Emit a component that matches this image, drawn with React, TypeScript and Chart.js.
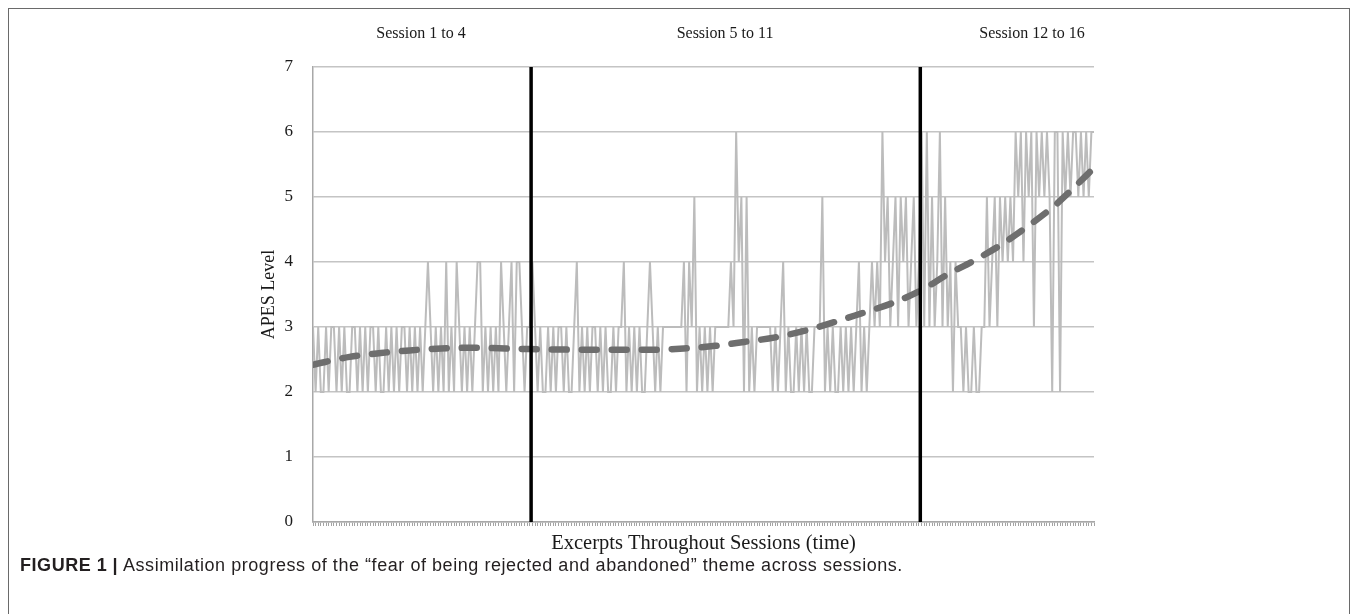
import React, { useEffect, useRef } from "react";
import { Chart, registerables } from "chart.js";

Chart.register(...registerables);

// APES level per excerpt, grouped by session block
const session1to4 = [
  3, 2, 3, 2, 2, 3, 2, 3, 3, 2,
  3, 2, 3, 2, 2, 3, 3, 2, 3, 2,
  3, 2, 3, 3, 2, 3, 2, 2, 3, 2,
  3, 2, 3, 2, 3, 3, 2, 3, 2, 3,
  2, 3, 2, 3, 4, 3, 2, 3, 2, 3,
  2, 4, 2, 3, 2, 4, 3, 2, 3, 2,
  3, 2, 3, 4, 4, 2, 3, 2, 3, 2,
  3, 2, 4, 3, 2, 3, 4, 2, 4, 4,
  3, 2, 3, 3,
];

const session5to11 = [
  4, 3,
  2, 3, 2, 2, 3, 2, 3, 2, 3, 3, 2, 3, 2, 2, 3,
  4,
  2, 3, 2, 3, 2, 3, 3, 2, 3, 2, 3, 2, 2, 3, 2, 3, 3,
  4,
  2, 3, 2, 3, 2, 3, 2, 2, 3,
  4,
  3, 2, 3, 2, 3,
  3, 3, 3, 3, 3, 3, 3,
  4, 2, 4, 3,
  5,
  2, 3, 2, 3, 2, 3, 2,
  3, 3, 3, 3, 3, 3,
  4, 3, 6, 4, 5, 2, 5, 2, 3, 2,
  3, 3, 3, 3, 3, 3,
  2, 3, 2, 3,
  4,
  2, 3, 2, 2, 3, 2, 3, 2, 3, 2, 2, 3,
  3, 3,
  5,
  2, 3, 2, 3, 2, 2, 3, 2, 3, 2, 3, 2, 3,
  4,
  2, 3, 2,
  3, 4, 3, 4, 3, 6, 4,
  5, 3, 4, 5, 3, 5, 4, 5, 3, 4, 5, 3, 4,
];

const session12to16 = [
  6, 3, 6,
  3, 5, 3, 4,
  6,
  3, 5, 3,
  4, 2, 4, 3, 3, 2, 3, 2, 2, 3, 2, 2, 3,
  3, 5, 3, 4, 5, 3, 5, 4, 5, 4, 5,
  4,
  6, 5, 6, 4, 6,
  5, 6,
  3,
  6, 5, 6, 5, 6, 5,
  2, 6, 6, 2, 6,
  5, 6, 5, 6, 6, 5, 6, 5, 6, 5, 6, 6,
];

// Dashed trend line, read at selected excerpt positions
const trendExcerpt = [0, 14, 26, 37, 49, 60, 83, 107, 130, 142, 154, 165, 177, 188, 200, 210, 222, 233, 243, 253, 264, 274, 284, 294, 299];
const trendLevel = [2.42, 2.54, 2.6, 2.64, 2.67, 2.68, 2.66, 2.65, 2.65, 2.67, 2.71, 2.77, 2.84, 2.94, 3.08, 3.21, 3.37, 3.57, 3.81, 4.02, 4.28, 4.56, 4.87, 5.25, 5.45];

const sessionLabels = ["Session 1 to 4", "Session 5 to 11", "Session 12 to 16"];
const yMin = 0;
const yMax = 7;
const yTitle = "APES Level";
const xTitle = "Excerpts Throughout Sessions (time)";
const captionLead = "FIGURE 1";
const captionText = "Assimilation progress of the \u201cfear of being rejected and abandoned\u201d theme across sessions.";

const SERIF = "'Liberation Serif', 'Times New Roman', serif";
const SANS = "'Liberation Sans', Arial, sans-serif";

function ApesChart() {
  const ref = useRef<HTMLCanvasElement | null>(null);

  useEffect(() => {
    const canvas = ref.current;
    if (!canvas) return;
    const levels = [...session1to4, ...session5to11, ...session12to16];
    const lastIndex = levels.length - 1;
    const break1 = session1to4.length - 0.5;
    const break2 = session1to4.length + session5to11.length - 0.5;

    const chart = new Chart(canvas, {
      type: "line",
      data: {
        datasets: [
          {
            label: "break1",
            data: [
              { x: break1, y: yMin },
              { x: break1, y: yMax },
            ],
            borderColor: "#000000",
            borderWidth: 3.5,
            pointRadius: 0,
            order: 0,
          },
          {
            label: "break2",
            data: [
              { x: break2, y: yMin },
              { x: break2, y: yMax },
            ],
            borderColor: "#000000",
            borderWidth: 3.5,
            pointRadius: 0,
            order: 0,
          },
          {
            label: "trend",
            data: trendExcerpt.map((x, i) => ({ x, y: trendLevel[i] })),
            borderColor: "#6e6e6e",
            borderWidth: 6.5,
            borderDash: [15, 15],
            borderCapStyle: "round",
            cubicInterpolationMode: "monotone",
            pointRadius: 0,
            order: 1,
          },
          {
            label: "APES",
            data: levels.map((y, x) => ({ x, y })),
            borderColor: "#bcbcbc",
            borderWidth: 2,
            pointRadius: 0,
            tension: 0,
            order: 2,
          },
        ],
      },
      options: {
        responsive: false,
        animation: false,
        events: [],
        layout: { padding: { left: 224, right: 255, top: 58, bottom: 13 } },
        plugins: {
          legend: { display: false },
          tooltip: { enabled: false },
        },
        scales: {
          x: {
            type: "linear",
            min: 0,
            max: lastIndex,
            afterFit: (s: any) => {
              s.height = 34;
            },
            ticks: { stepSize: 1, display: false },
            grid: {
              display: true,
              drawOnChartArea: false,
              drawTicks: true,
              tickLength: 4,
              color: "#a3a3a3",
              lineWidth: 1,
            },
            border: { display: true, color: "#a8a8a8", width: 1.5 },
            title: {
              display: true,
              text: xTitle,
              color: "#1a1a1a",
              font: { family: SERIF, size: 20.5 },
              padding: { top: 0, bottom: 0 },
            },
          },
          y: {
            type: "linear",
            min: yMin,
            max: yMax,
            afterFit: (s: any) => {
              s.width = 80;
            },
            ticks: {
              stepSize: 1,
              padding: 20,
              color: "#1a1a1a",
              font: { family: SERIF, size: 17 },
            },
            grid: {
              color: "#c4c4c4",
              lineWidth: 1.5,
              drawTicks: false,
            },
            border: { display: true, color: "#a8a8a8", width: 1.5 },
            title: {
              display: true,
              text: yTitle,
              color: "#1a1a1a",
              font: { family: SERIF, size: 18 },
              padding: { top: 25, bottom: 0 },
            },
          },
        },
      },
    });
    return () => chart.destroy();
  }, []);

  return <canvas ref={ref} width={1340} height={560} style={{ width: 1340, height: 560, display: "block" }} />;
}

export default function App() {
  const labelCenters = [412, 716, 1023];
  return (
    <div
      style={{
        position: "relative",
        width: 1342,
        height: 640,
        border: "1px solid #6a6a6a",
        boxSizing: "border-box",
        background: "#fff",
      }}
    >
      <style>{"html{overflow:hidden;}"}</style>
      <ApesChart />
      {sessionLabels.map((t, i) => (
        <div
          key={t}
          style={{
            position: "absolute",
            left: labelCenters[i],
            top: 14,
            transform: "translateX(-50%)",
            whiteSpace: "nowrap",
            fontFamily: SERIF,
            fontSize: 16,
            lineHeight: "20px",
            color: "#1a1a1a",
          }}
        >
          {t}
        </div>
      ))}
      <div
        style={{
          position: "absolute",
          left: 11,
          top: 546,
          whiteSpace: "nowrap",
          fontFamily: SANS,
          fontSize: 18,
          letterSpacing: 0.55,
          lineHeight: "20px",
          color: "#231f20",
        }}
      >
        <span style={{ fontWeight: 700 }}>{captionLead}</span>
        <span style={{ fontWeight: 700, margin: "0 5px" }}>|</span>
        <span>{captionText}</span>
      </div>
    </div>
  );
}
